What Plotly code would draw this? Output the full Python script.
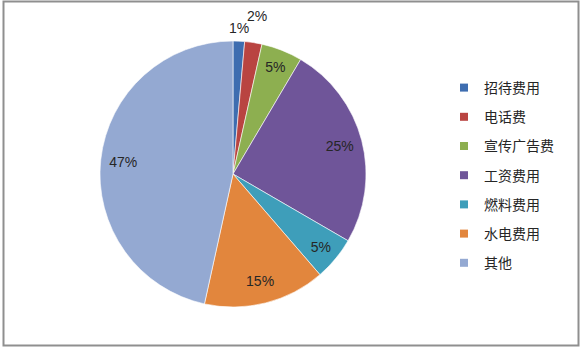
import math
import plotly.graph_objects as go

categories = ["招待费用", "电话费", "宣传广告费", "工资费用", "燃料费用", "水电费用", "其他"]
values = [1.4, 2.1, 5.0, 24.9, 5.3, 14.8, 46.6]
colors = ["#3E6DB0", "#B94441", "#8DAF50", "#6F5599", "#3E9EBA", "#E2863D", "#94A9D2"]
text_pos = ["none", "none", "inside", "inside", "inside", "inside", "inside"]
outside_radius = {0: 1.10, 1: 1.20}   # label distance (in radii) for the small slices

W, H = 582, 351
cx, cy, R = 233, 174, 133

dom_x = [(cx - R) / W, (cx + R) / W]
dom_y = [1 - (cy + R) / H, 1 - (cy - R) / H]
label_font = dict(family="Liberation Sans, Noto Sans CJK SC", size=14, color="#262626")

fig = go.Figure()

# coloured pie
fig.add_trace(go.Pie(
    labels=categories, values=values, sort=False, direction="clockwise",
    marker=dict(colors=colors, line=dict(color="white", width=0.6)),
    textinfo="none", showlegend=False, hoverinfo="label+percent",
    domain=dict(x=dom_x, y=dom_y),
))

# transparent ring carrying the percentage labels near the rim
fig.add_trace(go.Pie(
    labels=categories, values=values, sort=False, direction="clockwise",
    hole=0.66,
    marker=dict(colors=["rgba(0,0,0,0)"] * len(values), line=dict(width=0)),
    texttemplate="%{percent:.0%}", textposition=text_pos,
    insidetextorientation="horizontal",
    textfont=label_font,
    showlegend=False, hoverinfo="skip",
    domain=dict(x=dom_x, y=dom_y),
))

# outside labels for the two tiny slices, placed along each slice's bisector
total = sum(values)
annotations = []
cum = 0.0
for i, v in enumerate(values):
    if i in outside_radius:
        th = 2 * math.pi * (cum + v / 2) / total
        r = R * outside_radius[i]
        px = cx + r * math.sin(th)
        py = cy - r * math.cos(th)
        annotations.append(dict(
            x=px / W, y=1 - py / H, xref="paper", yref="paper",
            text=f"{round(100 * v / total)}%", showarrow=False,
            font=label_font, xanchor="center", yanchor="middle",
        ))
    cum += v

# legend entries
for name, c in zip(categories, colors):
    fig.add_trace(go.Scatter(
        x=[None], y=[None], mode="markers", name=name, legendgroup=name,
        marker=dict(symbol="square", size=8, color=c),
        showlegend=True,
    ))

fig.update_layout(
    width=W, height=H,
    margin=dict(l=0, r=0, t=0, b=0),
    paper_bgcolor="white", plot_bgcolor="white",
    xaxis=dict(visible=False), yaxis=dict(visible=False),
    uniformtext=dict(minsize=14, mode="show"),
    annotations=annotations,
    legend=dict(
        x=444 / W, y=1 - 72 / H, xanchor="left", yanchor="top",
        font=dict(family="Noto Sans CJK SC", size=14, color="#262626"),
        tracegroupgap=8, bgcolor="rgba(0,0,0,0)",
    ),
    shapes=[dict(
        type="rect", xref="paper", yref="paper",
        x0=3.5 / W, x1=578.5 / W, y0=1 - 345.5 / H, y1=1 - 1.5 / H,
        line=dict(color="#8f8f8f", width=2), layer="below",
    )],
)

fig.write_html("out.html")
